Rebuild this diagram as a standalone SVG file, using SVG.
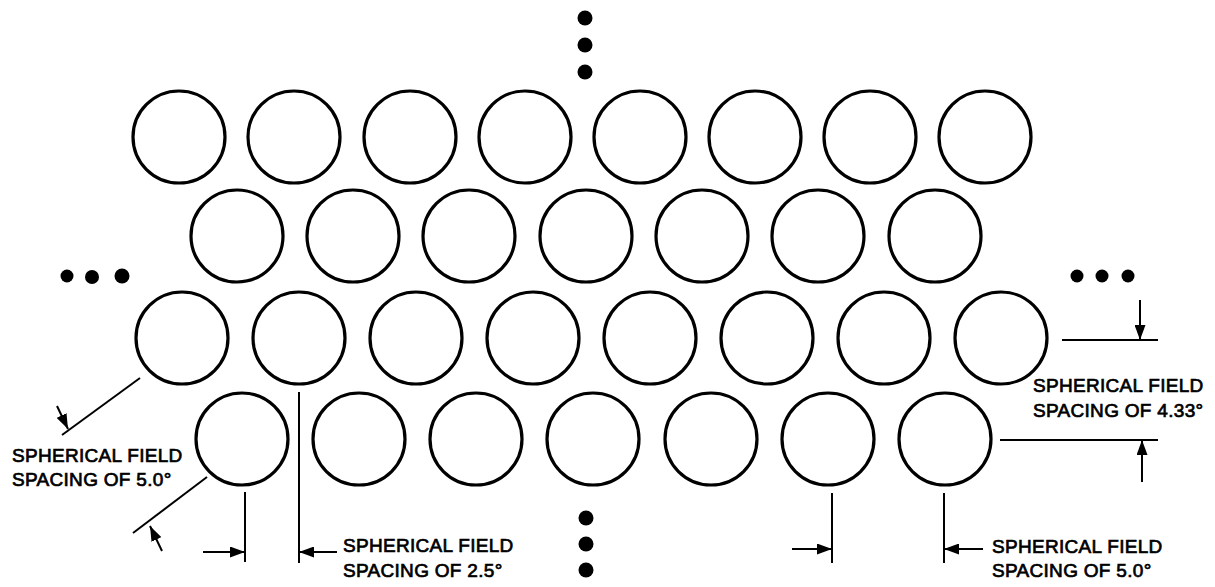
<svg xmlns="http://www.w3.org/2000/svg" width="1215" height="587" viewBox="0 0 1215 587">
<style>
.c{fill:none;stroke:#000;stroke-width:3.2}
.d{fill:#000}
.l{stroke:#000;stroke-width:2;fill:none}
.a{stroke:#000;stroke-width:2;fill:none;marker-end:url(#ah)}
text{font-family:"Liberation Sans",Arial,sans-serif;font-size:19px;fill:#000;letter-spacing:0.3px;stroke:#000;stroke-width:0.7}
</style>
<defs>
<marker id="ah" viewBox="0 0 15 11" refX="15" refY="5.5" markerWidth="15" markerHeight="11" markerUnits="userSpaceOnUse" orient="auto">
<path d="M0,0 L15,5.5 L0,11 Z" fill="#000"/>
</marker>
</defs>
<rect width="1215" height="587" fill="#fff"/>
<g id="row1">
<g id="n1-1"><circle class="c" cx="179" cy="137" r="46"/></g>
<g id="n1-2"><circle class="c" cx="294" cy="137" r="46"/></g>
<g id="n1-3"><circle class="c" cx="410" cy="137" r="46"/></g>
<g id="n1-4"><circle class="c" cx="525" cy="137" r="46"/></g>
<g id="n1-5"><circle class="c" cx="640" cy="137" r="46"/></g>
<g id="n1-6"><circle class="c" cx="755" cy="137" r="46"/></g>
<g id="n1-7"><circle class="c" cx="870" cy="137" r="46"/></g>
<g id="n1-8"><circle class="c" cx="985" cy="137" r="46"/></g>
</g>
<g id="row2">
<g id="n2-1"><circle class="c" cx="237" cy="236" r="46"/></g>
<g id="n2-2"><circle class="c" cx="353" cy="236" r="46"/></g>
<g id="n2-3"><circle class="c" cx="469" cy="236" r="46"/></g>
<g id="n2-4"><circle class="c" cx="586" cy="236" r="46"/></g>
<g id="n2-5"><circle class="c" cx="702" cy="236" r="46"/></g>
<g id="n2-6"><circle class="c" cx="818" cy="236" r="46"/></g>
<g id="n2-7"><circle class="c" cx="935" cy="236" r="46"/></g>
</g>
<g id="row3">
<g id="n3-1"><circle class="c" cx="182" cy="338" r="46"/></g>
<g id="n3-2"><circle class="c" cx="299" cy="338" r="46"/></g>
<g id="n3-3"><circle class="c" cx="416" cy="338" r="46"/></g>
<g id="n3-4"><circle class="c" cx="533" cy="338" r="46"/></g>
<g id="n3-5"><circle class="c" cx="650" cy="338" r="46"/></g>
<g id="n3-6"><circle class="c" cx="767" cy="338" r="46"/></g>
<g id="n3-7"><circle class="c" cx="884" cy="338" r="46"/></g>
<g id="n3-8"><circle class="c" cx="1001" cy="338" r="46"/></g>
</g>
<g id="row4">
<g id="n4-1"><circle class="c" cx="242" cy="439" r="46"/></g>
<g id="n4-2"><circle class="c" cx="359" cy="439" r="46"/></g>
<g id="n4-3"><circle class="c" cx="476" cy="439" r="46"/></g>
<g id="n4-4"><circle class="c" cx="593" cy="439" r="46"/></g>
<g id="n4-5"><circle class="c" cx="711" cy="439" r="46"/></g>
<g id="n4-6"><circle class="c" cx="828" cy="439" r="46"/></g>
<g id="n4-7"><circle class="c" cx="945" cy="439" r="46"/></g>
</g>
<g id="dots">
<circle class="d" cx="585" cy="18" r="7.5"/>
<circle class="d" cx="585" cy="45" r="7.5"/>
<circle class="d" cx="585" cy="72" r="7.5"/>
<circle class="d" cx="67" cy="276" r="6.5"/>
<circle class="d" cx="92" cy="277" r="7"/>
<circle class="d" cx="122" cy="276" r="7.5"/>
<circle class="d" cx="1077" cy="276" r="6.5"/>
<circle class="d" cx="1102" cy="276" r="6.5"/>
<circle class="d" cx="1128" cy="276" r="6.5"/>
<circle class="d" cx="586" cy="518" r="7.5"/>
<circle class="d" cx="586" cy="544" r="7.5"/>
<circle class="d" cx="586" cy="570" r="7.5"/>
</g>
<g id="connectors">
<line class="l" x1="140" y1="378" x2="62" y2="435"/>
<line class="a" x1="57" y1="406" x2="68" y2="429"/>
<line class="l" x1="207" y1="477" x2="133" y2="533"/>
<line class="a" x1="162" y1="551" x2="150" y2="526"/>
<line class="l" x1="245" y1="492" x2="245" y2="562"/>
<line class="a" x1="203" y1="552" x2="245" y2="552"/>
<line class="l" x1="299" y1="392" x2="299" y2="563"/>
<line class="a" x1="337" y1="552" x2="299" y2="552"/>
<line class="l" x1="832" y1="493" x2="832" y2="563"/>
<line class="a" x1="792" y1="549" x2="832" y2="549"/>
<line class="l" x1="944" y1="493" x2="944" y2="563"/>
<line class="a" x1="983" y1="549" x2="944" y2="549"/>
<line class="l" x1="1062" y1="340" x2="1158" y2="340"/>
<line class="a" x1="1140" y1="300" x2="1140" y2="340"/>
<line class="l" x1="1000" y1="440" x2="1158" y2="440"/>
<line class="a" x1="1142" y1="482" x2="1142" y2="440"/>
</g>
<g id="labels">
<text x="12" y="462">SPHERICAL FIELD</text>
<text x="12" y="486">SPACING OF 5.0°</text>
<text x="343" y="552">SPHERICAL FIELD</text>
<text x="343" y="577">SPACING OF 2.5°</text>
<text x="992" y="553">SPHERICAL FIELD</text>
<text x="992" y="577">SPACING OF 5.0°</text>
<text x="1033" y="392">SPHERICAL FIELD</text>
<text x="1033" y="417">SPACING OF 4.33°</text>
</g>
</svg>
